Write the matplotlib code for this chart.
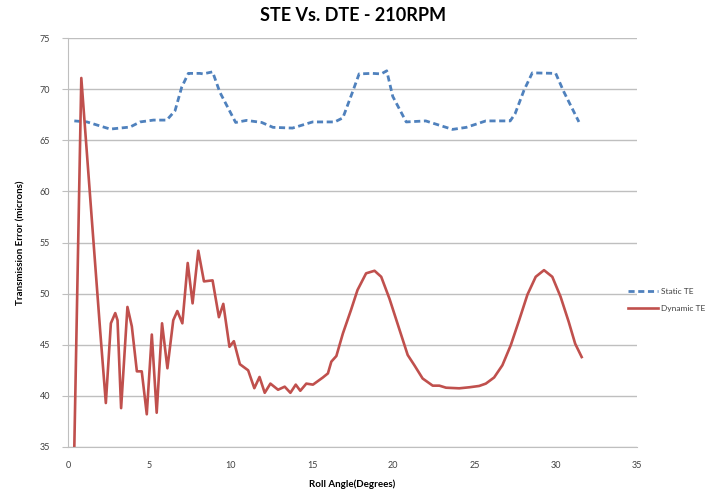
import matplotlib
matplotlib.use("Agg")
import matplotlib.pyplot as plt

plt.rcParams["font.family"] = ["Lato", "DejaVu Sans"]

# Static transmission error, dashed trace
static_angle = [0.37, 1.15, 2.58, 3.8, 4.42, 5.24, 6.06, 6.57, 6.98, 7.39, 8.1, 8.3, 8.88,
                9.33, 10.3, 10.97, 11.9, 12.6, 13.8, 15.04, 16.4, 16.9, 17.5, 17.9, 18.7,
                19.26, 19.6, 19.97, 20.8, 22.0, 23.65, 24.5, 25.7, 27.2, 27.5, 28.05, 28.56,
                30.0, 30.5, 31.43]
static_te = [66.9, 66.8, 66.1, 66.3, 66.8, 66.98, 66.98, 67.9, 70.2, 71.55, 71.55, 71.5, 71.7,
             69.7, 66.75, 66.95, 66.75, 66.27, 66.2, 66.8, 66.8, 67.2, 69.75, 71.5, 71.55,
             71.5, 71.8, 69.3, 66.8, 66.9, 66.07, 66.27, 66.9, 66.9, 67.6, 69.9, 71.6,
             71.55, 69.75, 66.8]

# Dynamic transmission error, solid trace
dynamic_angle = [0.37, 0.8, 1.45, 1.96, 2.31, 2.62, 2.89, 3.03, 3.25, 3.64, 3.91, 4.22, 4.52,
                 4.83, 5.14, 5.44, 5.77, 6.1, 6.46, 6.71, 7.02, 7.35, 7.65, 8.0, 8.35, 8.88,
                 9.27, 9.54, 9.92, 10.19, 10.56, 11.07, 11.45, 11.77, 12.09, 12.44, 12.91,
                 13.32, 13.67, 14.0, 14.28, 14.65, 15.06, 15.67, 15.98, 16.19, 16.5, 16.9,
                 17.4, 17.8, 18.33, 18.85, 19.26, 19.77, 20.38, 20.89, 21.3, 21.81, 22.43,
                 22.84, 23.25, 24.06, 24.68, 25.29, 25.7, 26.21, 26.72, 27.24, 27.75, 28.26,
                 28.77, 29.28, 29.79, 30.3, 30.8, 31.2, 31.6]
dynamic_te = [35.0, 71.1, 57.2, 46.4, 39.3, 47.1, 48.1, 47.4, 38.8, 48.7, 46.8, 42.4, 42.4,
              38.2, 46.0, 38.35, 47.1, 42.7, 47.4, 48.3, 47.1, 53.0, 49.05, 54.2, 51.2, 51.3,
              47.7, 49.0, 44.8, 45.35, 43.1, 42.5, 40.75, 41.85, 40.3, 41.2, 40.6,
              40.9, 40.3, 41.1, 40.5, 41.2, 41.1, 41.8, 42.2, 43.35, 43.9, 46.1,
              48.4, 50.35, 51.99, 52.24, 51.65, 49.5, 46.5, 44.0, 43.0, 41.7, 41.0,
              41.0, 40.8, 40.74, 40.84, 40.97, 41.2, 41.8, 43.0, 44.98, 47.4, 49.9,
              51.65, 52.3, 51.65, 49.7, 47.25, 45.1, 43.8]

x_ticks = [0, 5, 10, 15, 20, 25, 30, 35]
y_ticks = [35, 40, 45, 50, 55, 60, 65, 70, 75]

fig = plt.figure(figsize=(7.13, 4.95), dpi=100)
ax = fig.add_axes([0.0958, 0.097, 0.7975, 0.826])

ax.plot(static_angle, static_te, color="#4f81bd", lw=2.0, ls=(0, (2.2, 1.3)),
        label="Static TE", solid_capstyle="butt")
ax.plot(dynamic_angle, dynamic_te, color="#c0504d", lw=1.9, label="Dynamic TE",
        solid_joinstyle="round")

ax.set_xlim(0, 35)
ax.set_ylim(35, 75)
ax.set_xticks(x_ticks)
ax.set_yticks(y_ticks)
ax.yaxis.grid(True, color="#bfbfbf", lw=1.0)
ax.set_axisbelow(True)
for side in ("top", "right"):
    ax.spines[side].set_visible(False)
for side in ("left", "bottom"):
    ax.spines[side].set_color("#bfbfbf")
ax.tick_params(axis="y", length=4, color="#bfbfbf", labelsize=6.5, labelcolor="#404040", pad=9)
ax.tick_params(axis="x", length=0, labelsize=6.5, labelcolor="#404040", pad=10)

ax.set_title("STE Vs. DTE - 210RPM", fontsize=13, fontweight="bold", pad=12)
ax.set_xlabel("Roll Angle(Degrees)", fontsize=7, fontweight="bold", labelpad=7)
ax.set_ylabel("Transmission Error (microns)", fontsize=7, fontweight="bold", labelpad=10)

ax.legend(loc="center left", bbox_to_anchor=(0.985, 0.36), frameon=False, fontsize=6,
          handlelength=3.6, handletextpad=0.3, labelspacing=1.2, labelcolor="#404040",
          borderaxespad=0, borderpad=0)

fig.savefig("out.png", dpi=100)
